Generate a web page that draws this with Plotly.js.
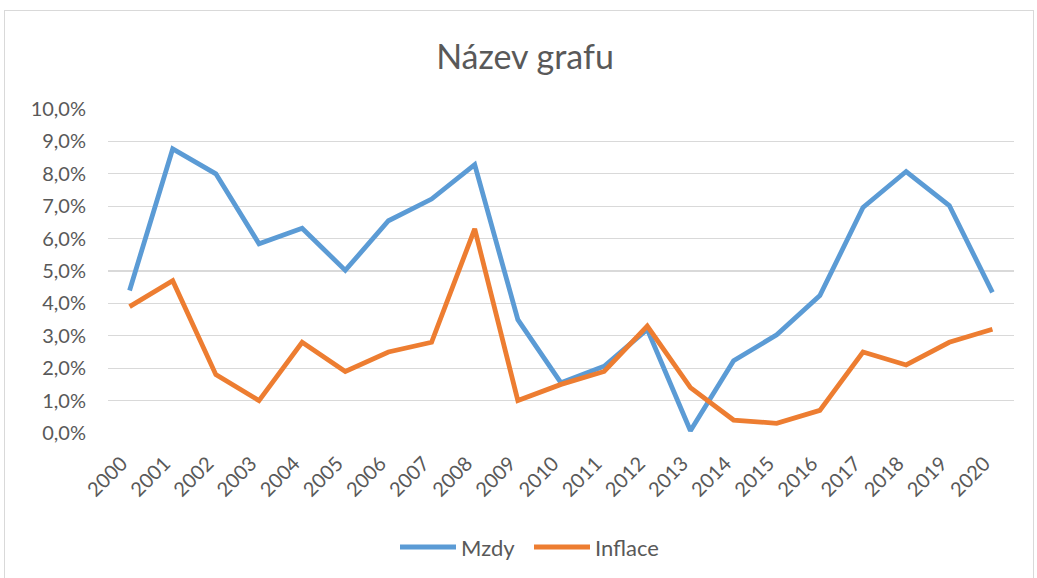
<!DOCTYPE html>
<html>
<head>
<meta charset="utf-8">
<script src="https://cdn.plot.ly/plotly-3.0.1.min.js"></script>
<style>
html,body{margin:0;padding:0;background:#fff;}
#chart{position:absolute;left:0;top:0;width:1037px;height:578px;}
#frame{position:absolute;left:4px;top:10px;width:1028px;height:580px;border:1px solid #d9d9d9;pointer-events:none;}
</style>
</head>
<body>
<div id="chart"></div>
<div id="frame"></div>
<script>
const years = ['2000','2001','2002','2003','2004','2005','2006','2007','2008','2009','2010','2011','2012','2013','2014','2015','2016','2017','2018','2019','2020'];
const mzdy = [4.4, 8.77, 8.0, 5.84, 6.32, 5.02, 6.55, 7.22, 8.28, 3.5, 1.55, 2.06, 3.2, 0.07, 2.23, 3.03, 4.24, 6.96, 8.07, 7.02, 4.34];
const inflace = [3.9, 4.7, 1.8, 1.0, 2.8, 1.9, 2.5, 2.8, 6.3, 1.0, 1.5, 1.9, 3.3, 1.4, 0.4, 0.3, 0.7, 2.5, 2.1, 2.8, 3.2];
const yTicks = [0,1,2,3,4,5,6,7,8,9,10];
const yTickLabels = ['0,0%','1,0%','2,0%','3,0%','4,0%','5,0%','6,0%','7,0%','8,0%','9,0%','10,0%'];
const seriesNames = ['Mzdy', 'Inflace'];
const seriesColors = ['#5B9BD5', '#ED7D31'];

const FONT = 'Lato, "Open Sans", sans-serif';
const GREY = '#595959';

const W = 1037, H = 578;
const M = {l: 108, r: 23, t: 109, b: 145};
const PW = W - M.l - M.r, PH = H - M.t - M.b;
const px2x = p => (p - M.l) / PW;
const py2y = p => (H - M.b - p) / PH;

const traces = [
  {x: years, y: mzdy, name: seriesNames[0], type: 'scatter', mode: 'lines',
   line: {color: seriesColors[0], width: 4.8, shape: 'linear'}},
  {x: years, y: inflace, name: seriesNames[1], type: 'scatter', mode: 'lines',
   line: {color: seriesColors[1], width: 4.8, shape: 'linear'}}
];

// custom legend (Excel style: long line sample, text right next to it)
const legendItems = [
  {x0: 400, x1: 456, tx: 459},
  {x0: 534, x1: 590, tx: 593}
];
const legendY = 547;
const shapes = legendItems.map((it, i) => ({
  type: 'line', xref: 'paper', yref: 'paper',
  x0: px2x(it.x0), x1: px2x(it.x1), y0: py2y(legendY), y1: py2y(legendY),
  line: {color: seriesColors[i], width: 5}
}));
const annotations = legendItems.map((it, i) => ({
  xref: 'paper', yref: 'paper', x: px2x(it.tx), y: py2y(legendY),
  xanchor: 'left', yanchor: 'middle', showarrow: false,
  text: seriesNames[i], font: {family: FONT, size: 22, color: GREY}
}));

const layout = {
  width: W, height: H,
  margin: M,
  paper_bgcolor: '#fff', plot_bgcolor: '#fff',
  font: {family: FONT, color: GREY, size: 20},
  title: {text: 'Název grafu', font: {family: FONT, size: 34, color: GREY},
          x: 525/1037, xref: 'container', xanchor: 'center', y: 1 - 57/578, yref: 'container', yanchor: 'middle'},
  xaxis: {type: 'category', tickangle: -45, showgrid: false, zeroline: false,
          showline: false, ticks: '', tickfont: {size: 20, color: GREY},
          ticklabelstandoff: 14, ticklabelshift: -8,
          range: [-0.5, years.length - 0.5], fixedrange: true},
  yaxis: {range: [0, 10], tickmode: 'array', tickvals: yTicks, ticktext: yTickLabels,
          showgrid: true, gridcolor: '#d9d9d9', gridwidth: 1.3, zeroline: false,
          showline: false, ticks: '', ticklabelstandoff: 21, tickfont: {size: 20, color: GREY}, fixedrange: true},
  showlegend: false,
  shapes: shapes,
  annotations: annotations
};

Plotly.newPlot('chart', traces, layout, {displayModeBar: false, staticPlot: true});
</script>
</body>
</html>
